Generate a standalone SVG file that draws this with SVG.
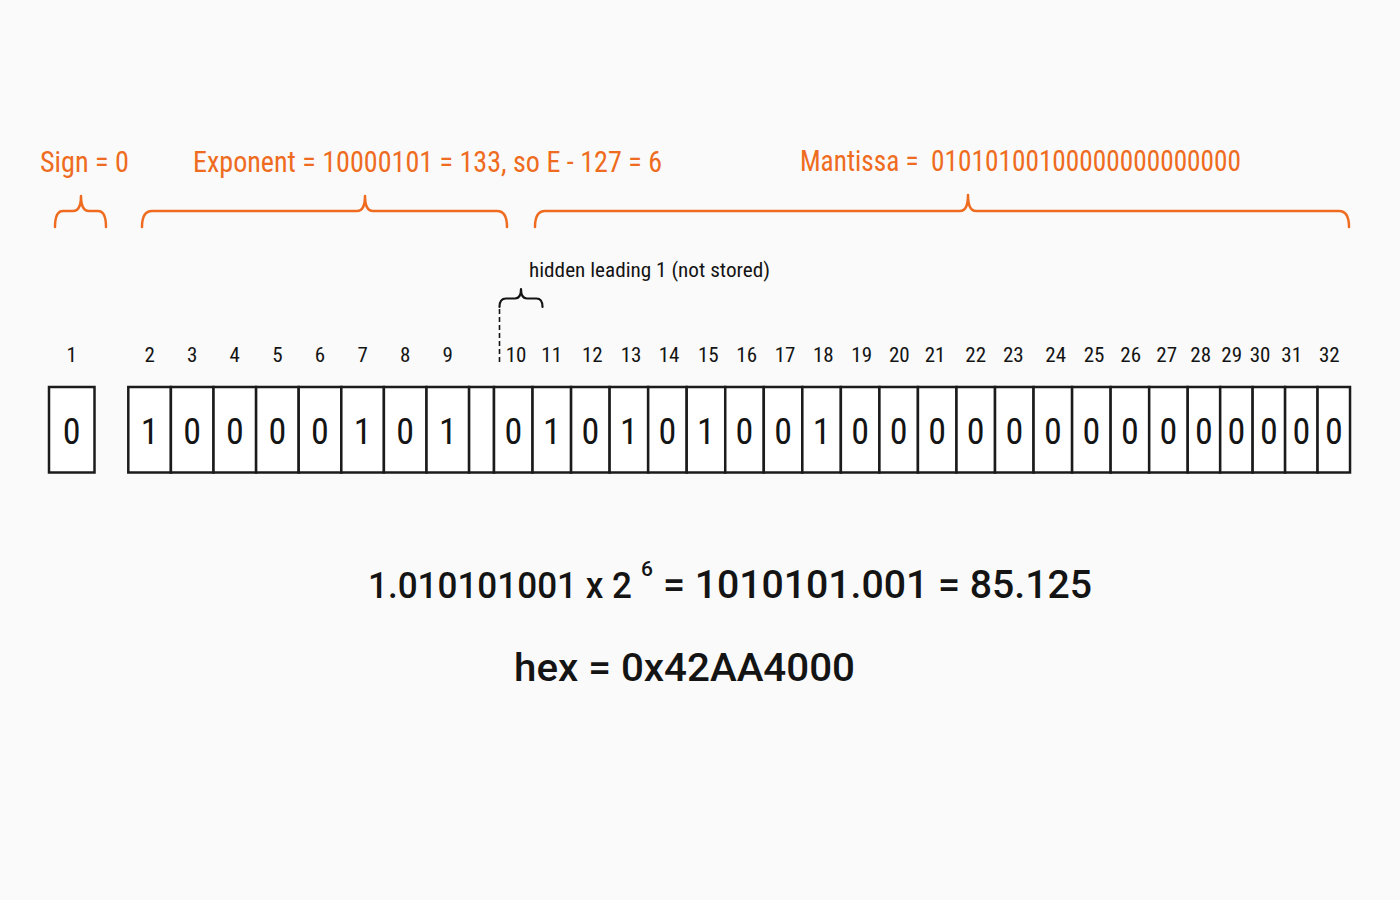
<svg xmlns="http://www.w3.org/2000/svg" width="1400" height="900" viewBox="0 0 1400 900">
<defs>
<style>
.cell{fill:#fff;stroke:#1b1b1b;stroke-width:2.5}
.bit{font-family:"Liberation Sans Narrow","Roboto Condensed","DejaVu Sans Condensed","Liberation Sans",sans-serif;font-size:36px;fill:#141414;text-anchor:middle}
.idx{font-family:"Liberation Sans Narrow","Roboto Condensed","DejaVu Sans Condensed","Liberation Sans",sans-serif;font-size:21px;fill:#141414;text-anchor:middle}
.org{font-family:"Liberation Sans Narrow","Roboto Condensed","DejaVu Sans Condensed","Liberation Sans",sans-serif;font-size:29px;fill:#EE6B20}
.note{font-family:"Liberation Sans Narrow","Roboto Condensed","DejaVu Sans Condensed","Liberation Sans",sans-serif;font-size:20px;fill:#141414}
.brace{fill:none;stroke:#EE6B20;stroke-width:2.5;stroke-linecap:round;stroke-linejoin:round}
.kbrace{fill:none;stroke:#141414;stroke-width:2.2;stroke-linecap:round;stroke-linejoin:round}
.dash{fill:none;stroke:#141414;stroke-width:1.6;stroke-dasharray:5 3}
.big{font-family:Roboto,"Liberation Sans",sans-serif;font-weight:500;font-size:38px;fill:#141414}
.big2{font-family:Roboto,"Liberation Sans",sans-serif;font-weight:500;font-size:36px;fill:#141414}
.sup{font-family:Roboto,"Liberation Sans",sans-serif;font-weight:500;font-size:21px;fill:#141414}
</style>
</defs>
<rect width="1400" height="900" fill="#fafafa"/>

<g id="titles">
<text class="org" x="40" y="172" textLength="89" lengthAdjust="spacingAndGlyphs">Sign = 0</text>
<text class="org" x="193" y="172" textLength="469" lengthAdjust="spacingAndGlyphs">Exponent = 10000101 = 133, so E - 127 = 6</text>
<text class="org" x="800" y="171" textLength="441" lengthAdjust="spacingAndGlyphs" xml:space="preserve">Mantissa =  01010100100000000000000</text>
</g>

<g id="connectors">
<path class="brace" d="M55,227 Q55,211 63,211 L73,211 Q81,211 81,196 Q81,211 89,211 L98,211 Q106,211 106,227"/>
<path class="brace" d="M142,227 Q142,211 152,211 L357,211 Q365,211 365,196 Q365,211 373,211 L497,211 Q507,211 507,227"/>
<path class="brace" d="M535,227 Q535,211 545,211 L960,211 Q968,211 968,195 Q968,211 976,211 L1339,211 Q1349,211 1349,227"/>
<path class="kbrace" d="M499.5,307 Q499.5,298.5 506,298.5 L515,298.5 Q521,298.5 521,289 Q521,298.5 527,298.5 L536.5,298.5 Q542.5,298.5 542.5,307"/>
<line class="dash" x1="499.5" y1="309" x2="499.5" y2="364"/>
</g>

<g id="hidden-note">
<text class="note" x="529" y="277" textLength="241" lengthAdjust="spacingAndGlyphs">hidden leading 1 (not stored)</text>
</g>

<g id="sign">
<text class="idx" x="71.7" y="362">1</text>
<rect class="cell" x="49" y="387" width="45.5" height="85.5"/>
<text class="bit" x="71.7" y="444">0</text>
</g>

<g id="exponent">
<g id="bit-2"><text class="idx" x="149.6" y="362">2</text><rect class="cell" x="128.3" y="387" width="42.6" height="85.5"/><text class="bit" x="149.6" y="444">1</text></g>
<g id="bit-3"><text class="idx" x="192.2" y="362">3</text><rect class="cell" x="170.9" y="387" width="42.6" height="85.5"/><text class="bit" x="192.2" y="444">0</text></g>
<g id="bit-4"><text class="idx" x="234.8" y="362">4</text><rect class="cell" x="213.5" y="387" width="42.6" height="85.5"/><text class="bit" x="234.8" y="444">0</text></g>
<g id="bit-5"><text class="idx" x="277.4" y="362">5</text><rect class="cell" x="256.1" y="387" width="42.6" height="85.5"/><text class="bit" x="277.4" y="444">0</text></g>
<g id="bit-6"><text class="idx" x="320" y="362">6</text><rect class="cell" x="298.7" y="387" width="42.6" height="85.5"/><text class="bit" x="320" y="444">0</text></g>
<g id="bit-7"><text class="idx" x="362.6" y="362">7</text><rect class="cell" x="341.3" y="387" width="42.6" height="85.5"/><text class="bit" x="362.6" y="444">1</text></g>
<g id="bit-8"><text class="idx" x="405.2" y="362">8</text><rect class="cell" x="383.9" y="387" width="42.6" height="85.5"/><text class="bit" x="405.2" y="444">0</text></g>
<g id="bit-9"><text class="idx" x="447.8" y="362">9</text><rect class="cell" x="426.5" y="387" width="42.6" height="85.5"/><text class="bit" x="447.8" y="444">1</text></g>
</g>

<g id="hidden-cell">
<rect class="cell" x="469.1" y="387" width="24.9" height="85.5"/>
</g>

<g id="mantissa">
<g id="bit-10"><text class="idx" x="516" y="362">10</text><rect class="cell" x="494" y="387" width="38.54" height="85.5"/><text class="bit" x="513.27" y="444">0</text></g>
<g id="bit-11"><text class="idx" x="551.7" y="362">11</text><rect class="cell" x="532.54" y="387" width="38.54" height="85.5"/><text class="bit" x="551.81" y="444">1</text></g>
<g id="bit-12"><text class="idx" x="592.3" y="362">12</text><rect class="cell" x="571.08" y="387" width="38.54" height="85.5"/><text class="bit" x="590.35" y="444">0</text></g>
<g id="bit-13"><text class="idx" x="631" y="362">13</text><rect class="cell" x="609.62" y="387" width="38.54" height="85.5"/><text class="bit" x="628.89" y="444">1</text></g>
<g id="bit-14"><text class="idx" x="669" y="362">14</text><rect class="cell" x="648.16" y="387" width="38.54" height="85.5"/><text class="bit" x="667.43" y="444">0</text></g>
<g id="bit-15"><text class="idx" x="708.3" y="362">15</text><rect class="cell" x="686.7" y="387" width="38.54" height="85.5"/><text class="bit" x="705.97" y="444">1</text></g>
<g id="bit-16"><text class="idx" x="746.7" y="362">16</text><rect class="cell" x="725.24" y="387" width="38.54" height="85.5"/><text class="bit" x="744.51" y="444">0</text></g>
<g id="bit-17"><text class="idx" x="785" y="362">17</text><rect class="cell" x="763.78" y="387" width="38.54" height="85.5"/><text class="bit" x="783.05" y="444">0</text></g>
<g id="bit-18"><text class="idx" x="823.3" y="362">18</text><rect class="cell" x="802.32" y="387" width="38.54" height="85.5"/><text class="bit" x="821.59" y="444">1</text></g>
<g id="bit-19"><text class="idx" x="861.7" y="362">19</text><rect class="cell" x="840.86" y="387" width="38.54" height="85.5"/><text class="bit" x="860.13" y="444">0</text></g>
<g id="bit-20"><text class="idx" x="899.3" y="362">20</text><rect class="cell" x="879.4" y="387" width="38.54" height="85.5"/><text class="bit" x="898.67" y="444">0</text></g>
<g id="bit-21"><text class="idx" x="935" y="362">21</text><rect class="cell" x="917.94" y="387" width="38.54" height="85.5"/><text class="bit" x="937.21" y="444">0</text></g>
<g id="bit-22"><text class="idx" x="975.7" y="362">22</text><rect class="cell" x="956.48" y="387" width="38.54" height="85.5"/><text class="bit" x="975.75" y="444">0</text></g>
<g id="bit-23"><text class="idx" x="1013.3" y="362">23</text><rect class="cell" x="995.02" y="387" width="38.54" height="85.5"/><text class="bit" x="1014.29" y="444">0</text></g>
<g id="bit-24"><text class="idx" x="1055.7" y="362">24</text><rect class="cell" x="1033.56" y="387" width="38.54" height="85.5"/><text class="bit" x="1052.83" y="444">0</text></g>
<g id="bit-25"><text class="idx" x="1094" y="362">25</text><rect class="cell" x="1072.1" y="387" width="38.54" height="85.5"/><text class="bit" x="1091.37" y="444">0</text></g>
<g id="bit-26"><text class="idx" x="1130.7" y="362">26</text><rect class="cell" x="1110.64" y="387" width="38.54" height="85.5"/><text class="bit" x="1129.91" y="444">0</text></g>
<g id="bit-27"><text class="idx" x="1166.7" y="362">27</text><rect class="cell" x="1149.18" y="387" width="38.54" height="85.5"/><text class="bit" x="1168.45" y="444">0</text></g>
<g id="bit-28"><text class="idx" x="1200.7" y="362">28</text><rect class="cell" x="1187.72" y="387" width="32.46" height="85.5"/><text class="bit" x="1203.95" y="444">0</text></g>
<g id="bit-29"><text class="idx" x="1231.7" y="362">29</text><rect class="cell" x="1220.18" y="387" width="32.46" height="85.5"/><text class="bit" x="1236.41" y="444">0</text></g>
<g id="bit-30"><text class="idx" x="1260" y="362">30</text><rect class="cell" x="1252.64" y="387" width="32.46" height="85.5"/><text class="bit" x="1268.87" y="444">0</text></g>
<g id="bit-31"><text class="idx" x="1291.7" y="362">31</text><rect class="cell" x="1285.1" y="387" width="32.46" height="85.5"/><text class="bit" x="1301.33" y="444">0</text></g>
<g id="bit-32"><text class="idx" x="1329.3" y="362">32</text><rect class="cell" x="1317.56" y="387" width="32.46" height="85.5"/><text class="bit" x="1333.79" y="444">0</text></g>
</g>

<g id="formula">
<text class="big2" x="368" y="598" textLength="264" lengthAdjust="spacingAndGlyphs">1.010101001 x 2</text>
<text class="sup" x="641" y="576">6</text>
<text class="big" x="663" y="598" textLength="429" lengthAdjust="spacingAndGlyphs">= 1010101.001 = 85.125</text>
</g>

<g id="hex">
<text class="big" x="514" y="681" textLength="341" lengthAdjust="spacingAndGlyphs">hex = 0x42AA4000</text>
</g>
</svg>
